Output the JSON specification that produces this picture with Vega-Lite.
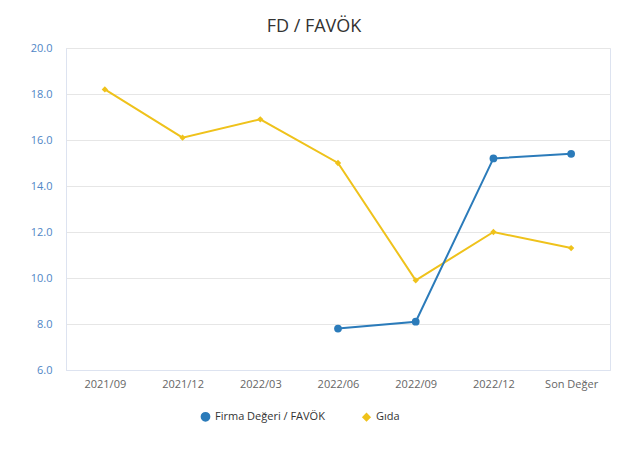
{
  "$schema": "https://vega.github.io/schema/vega-lite/v6.json",
  "autosize": "none",
  "width": 544,
  "height": 322,
  "padding": {"left": 66, "top": 48, "right": 11, "bottom": 82},
  "background": "white",
  "title": {"text": "FD / FAVÖK", "font": "Open Sans", "fontSize": 18, "fontWeight": "normal", "color": "#333333", "offset": 6, "dx": -24},
  "config": {
    "font": "Open Sans",
    "view": {"stroke": "#dde3f0", "strokeWidth": 1}
  },
  "data": {
    "values": [
      {"donem": "2021/09", "seri": "Gıda", "deger": 18.2},
      {"donem": "2021/12", "seri": "Gıda", "deger": 16.1},
      {"donem": "2022/03", "seri": "Gıda", "deger": 16.9},
      {"donem": "2022/06", "seri": "Gıda", "deger": 15.0},
      {"donem": "2022/09", "seri": "Gıda", "deger": 9.9},
      {"donem": "2022/12", "seri": "Gıda", "deger": 12.0},
      {"donem": "Son Değer", "seri": "Gıda", "deger": 11.3},
      {"donem": "2022/06", "seri": "Firma Değeri / FAVÖK", "deger": 7.8},
      {"donem": "2022/09", "seri": "Firma Değeri / FAVÖK", "deger": 8.1},
      {"donem": "2022/12", "seri": "Firma Değeri / FAVÖK", "deger": 15.2},
      {"donem": "Son Değer", "seri": "Firma Değeri / FAVÖK", "deger": 15.4}
    ]
  },
  "encoding": {
    "x": {
      "field": "donem", "type": "ordinal",
      "sort": ["2021/09", "2021/12", "2022/03", "2022/06", "2022/09", "2022/12", "Son Değer"],
      "scale": {"type": "point", "padding": 0.5},
      "axis": {"title": null, "labelAngle": 0, "ticks": false, "labelPadding": 8, "labelColor": "#666666", "labelFontSize": 11, "domainColor": "#dde3f0", "grid": false}
    },
    "y": {
      "field": "deger", "type": "quantitative",
      "scale": {"domain": [6, 20], "nice": false, "zero": false},
      "axis": {"title": null, "values": [6, 8, 10, 12, 14, 16, 18, 20], "format": ".1f", "ticks": false, "labelPadding": 14, "labelColor": "#4f86c6", "labelFontSize": 11, "domainColor": "#dde3f0", "gridColor": "#e6e6e6"}
    },
    "color": {
      "field": "seri", "type": "nominal",
      "sort": ["Firma Değeri / FAVÖK", "Gıda"],
      "scale": {"domain": ["Firma Değeri / FAVÖK", "Gıda"], "range": ["#2b7bba", "#efc21b"]},
      "legend": {"title": null, "orient": "none", "legendX": 134, "legendY": 363, "direction": "horizontal", "labelFontSize": 11, "labelColor": "#333333", "columnPadding": 34, "symbolStrokeWidth": 2}
    }
  },
  "layer": [
    {"mark": {"type": "line", "strokeWidth": 2}, "encoding": {"detail": {"field": "seri"}}},
    {
      "mark": {"type": "point", "filled": true, "opacity": 1},
      "encoding": {
        "shape": {"field": "seri", "type": "nominal", "sort": ["Firma Değeri / FAVÖK", "Gıda"], "scale": {"domain": ["Firma Değeri / FAVÖK", "Gıda"], "range": ["circle", "diamond"]}, "legend": {"title": null}},
        "size": {"field": "seri", "type": "nominal", "scale": {"domain": ["Firma Değeri / FAVÖK", "Gıda"], "range": [60, 40]}, "legend": null}
      }
    }
  ]
}
